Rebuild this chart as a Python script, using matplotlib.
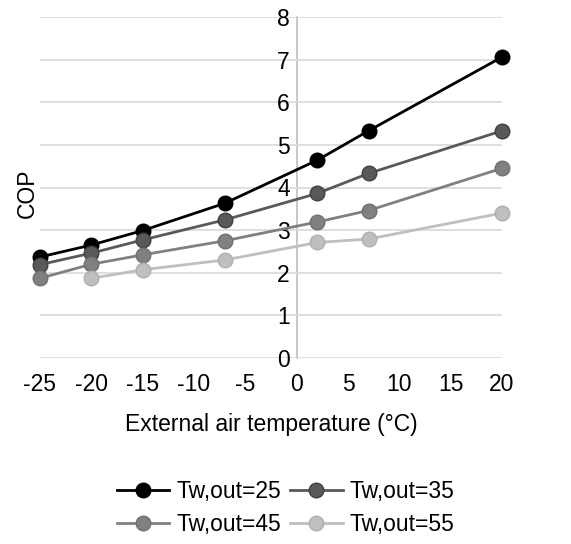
import matplotlib
matplotlib.use("Agg")
import matplotlib.pyplot as plt

plt.rcParams['font.family'] = ['Liberation Sans', 'DejaVu Sans']
plt.rcParams['axes.unicode_minus'] = False

temps = [-25, -20, -15, -7, 2, 7, 20]
cop_25 = [2.37, 2.65, 2.99, 3.63, 4.64, 5.33, 7.06]
cop_35 = [2.19, 2.46, 2.77, 3.24, 3.86, 4.33, 5.33]
cop_45 = [1.87, 2.20, 2.42, 2.75, 3.19, 3.46, 4.45]
temps_55 = [-20, -15, -7, 2, 7, 20]
cop_55 = [1.87, 2.07, 2.30, 2.71, 2.79, 3.40]
labels = ["Tw,out=25", "Tw,out=35", "Tw,out=45", "Tw,out=55"]
colors = ["#000000", "#595959", "#808080", "#bfbfbf"]
edges = ["#000000", "#404040", "#707070", "#b0b0b0"]

FS = 16.5

fig = plt.figure(figsize=(5.71, 5.44), dpi=100)
ax = fig.add_axes([40/571, 1-358/544, (502-40)/571, (358-17)/544])

series = [(temps, cop_25), (temps, cop_35), (temps, cop_45), (temps_55, cop_55)]
handles = []
for (xs, ys), lab, c, e in zip(series, labels, colors, edges):
    h, = ax.plot(xs, ys, color=c, lw=2, marker='o', markersize=10.5,
                 markerfacecolor=c, markeredgecolor=e, markeredgewidth=1,
                 label=lab, zorder=3, clip_on=False)
    handles.append(h)

ax.set_xlim(-25, 20)
ax.set_ylim(0, 8)
ax.set_xticks(range(-25, 21, 5))
ax.set_yticks(range(0, 9))
ax.grid(axis='y', color='#d9d9d9', lw=1.2, zorder=0)
for s in ['top', 'right', 'bottom']:
    ax.spines[s].set_visible(False)
ax.spines['left'].set_position(('data', 0))
ax.spines['left'].set_color('#bfbfbf')
ax.spines['left'].set_linewidth(1.2)
ax.spines['left'].set_zorder(1)
ax.tick_params(axis='both', length=0, labelsize=FS, colors='#000000')
ax.tick_params(axis='x', pad=11)
ax.tick_params(axis='y', pad=5)
fig.text(0.5*(40+502)/571, 1-424/544, "External air temperature (°C)", fontsize=FS,
         ha='center', va='center')
fig.text(27/571, 1-193/544, "COP", rotation=90, fontsize=FS, ha='center', va='center')

order = [0, 2, 1, 3]
fig.legend([handles[i] for i in order], [labels[i] for i in order], loc='center',
           bbox_to_anchor=(0.5, 1-508/544), ncol=2,
           frameon=False, fontsize=FS, handlelength=2.3, handletextpad=0.3,
           columnspacing=0.4, labelspacing=0.4)

fig.savefig("out.png", dpi=100)
